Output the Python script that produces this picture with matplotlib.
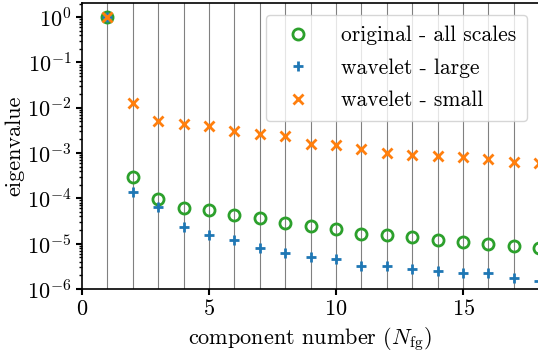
import numpy as np
import matplotlib
matplotlib.use("Agg")
import matplotlib.pyplot as plt

plt.rcParams['font.family'] = 'serif'
plt.rcParams['font.serif'] = ['cmr10']
plt.rcParams['mathtext.fontset'] = 'cm'
plt.rcParams['axes.formatter.use_mathtext'] = True
plt.rcParams['font.size'] = 16

# eigenvalues per component
n_comp = np.arange(1, 19)
eig_orig = [1.0, 2.9e-4, 9.5e-5, 6.0e-5, 5.6e-5, 4.4e-5, 3.6e-5, 2.9e-5, 2.4e-5,
            2.1e-5, 1.66e-5, 1.58e-5, 1.42e-5, 1.23e-5, 1.10e-5, 9.8e-6, 9.1e-6, 8.2e-6]
eig_large = [1.0, 1.35e-4, 6.3e-5, 2.3e-5, 1.58e-5, 1.2e-5, 8.0e-6, 6.1e-6, 5.1e-6,
             4.6e-6, 3.3e-6, 3.2e-6, 2.7e-6, 2.5e-6, 2.3e-6, 2.2e-6, 1.78e-6, 1.5e-6]
eig_small = [1.0, 1.25e-2, 5.2e-3, 4.4e-3, 4.0e-3, 3.1e-3, 2.6e-3, 2.4e-3, 1.6e-3,
             1.48e-3, 1.23e-3, 9.8e-4, 9.1e-4, 8.7e-4, 8.3e-4, 7.4e-4, 6.3e-4, 6.2e-4]

fig = plt.figure(figsize=(5.38, 3.53), dpi=100)
ax = fig.add_axes([0.1524, 0.1813, 0.8476, 0.810])

for k in n_comp:
    ax.axvline(k, color='0.5', lw=0.8, zorder=0)

ax.plot(n_comp, eig_orig, 'o', ls='none', mfc='none', mec='tab:green', mew=2,
        ms=8, label='original - all scales')
ax.plot(n_comp, eig_large, '+', ls='none', color='tab:blue', mew=2, ms=7,
        label='wavelet - large')
ax.plot(n_comp, eig_small, 'x', ls='none', color='tab:orange', mew=2, ms=7,
        label='wavelet - small')

ax.set_yscale('log')
ax.set_ylim(1e-6, 2.05)
ax.set_xlim(0, 17.95)
ax.set_xticks([0, 5, 10, 15])
ax.spines['right'].set_visible(False)
ax.tick_params(which='major', direction='out', length=4, width=1.5, labelsize=16)
ax.tick_params(which='minor', direction='out', length=2.2, width=1)
for s in ax.spines.values():
    s.set_linewidth(1.2)

ax.set_xlabel(r'component number ($N_{\rm fg}$)', fontsize=16, labelpad=4)
ax.set_ylabel('eigenvalue', fontsize=16, labelpad=2)

ax.legend(loc='upper right', bbox_to_anchor=(0.9796, 0.9575), bbox_transform=fig.transFigure,
          fontsize=15.5, handlelength=2.0, handletextpad=1.0, borderpad=0.5,
          labelspacing=0.6, borderaxespad=0)

fig.savefig('out.png', dpi=100)
